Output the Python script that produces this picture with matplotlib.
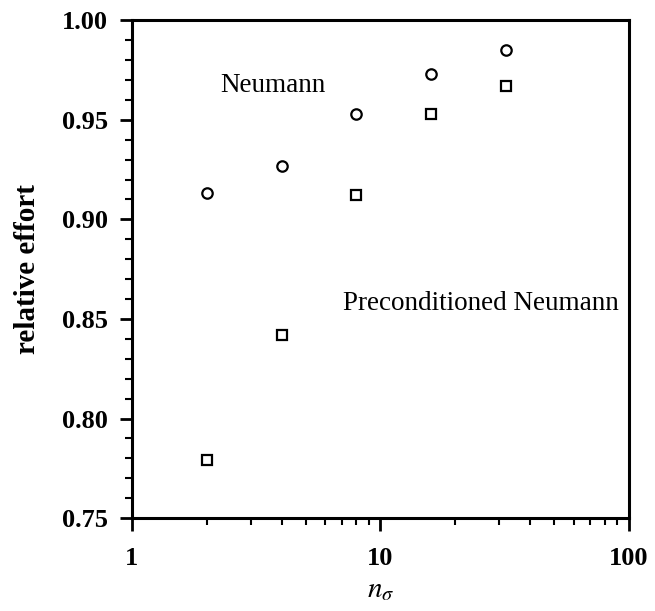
import matplotlib
matplotlib.use("Agg")
import matplotlib.pyplot as plt
from matplotlib.ticker import LogLocator, MultipleLocator, FormatStrFormatter, FixedFormatter

plt.rcParams['font.family'] = ['Liberation Serif', 'DejaVu Serif']
plt.rcParams['mathtext.fontset'] = 'stix'

n_sigma = [2, 4, 8, 16, 32]
neumann = [0.913, 0.927, 0.953, 0.973, 0.985]
precond = [0.779, 0.842, 0.912, 0.953, 0.967]
xtick_vals = [1, 10, 100]
xtick_labels = ['1', '10', '100']

fig = plt.figure(figsize=(6.55, 6.11), dpi=100)
ax = fig.add_axes([0.2015, 0.152, 0.7585, 0.815])

ax.plot(n_sigma, neumann, linestyle='none', marker='o', markersize=7.5,
        markerfacecolor='white', markeredgecolor='black', markeredgewidth=1.6)
ax.plot(n_sigma, precond, linestyle='none', marker='s', markersize=7.5,
        markerfacecolor='white', markeredgecolor='black', markeredgewidth=1.6)

ax.set_xscale('log')
ax.set_xlim(1, 100)
ax.set_ylim(0.75, 1.00)

ax.set_xticks(xtick_vals)
ax.xaxis.set_major_formatter(FixedFormatter(xtick_labels))
ax.xaxis.set_minor_locator(LogLocator(base=10, subs=range(2, 10)))
ax.yaxis.set_major_locator(MultipleLocator(0.05))
ax.yaxis.set_minor_locator(MultipleLocator(0.01))
ax.yaxis.set_major_formatter(FormatStrFormatter('%.2f'))

for s in ax.spines.values():
    s.set_linewidth(2.2)
ax.tick_params(which='major', direction='out', length=9, width=2, labelsize=19)
ax.tick_params(which='minor', direction='out', length=5, width=1.5)
ax.tick_params(axis='x', which='major', pad=12)
ax.tick_params(axis='y', which='major', pad=8)
for lab in ax.get_xticklabels() + ax.get_yticklabels():
    lab.set_fontweight('bold')

ax.set_ylabel('relative effort', fontsize=21, fontweight='bold', labelpad=15)
ax.set_xlabel(r'$n_\sigma$', fontsize=21, labelpad=5)

ax.text(2.26, 0.967, 'Neumann', fontsize=19.5, ha='left', va='center')
ax.text(7.06, 0.858, 'Preconditioned Neumann', fontsize=19.5, ha='left', va='center',
        clip_on=False)

fig.savefig('out.png', dpi=100)
